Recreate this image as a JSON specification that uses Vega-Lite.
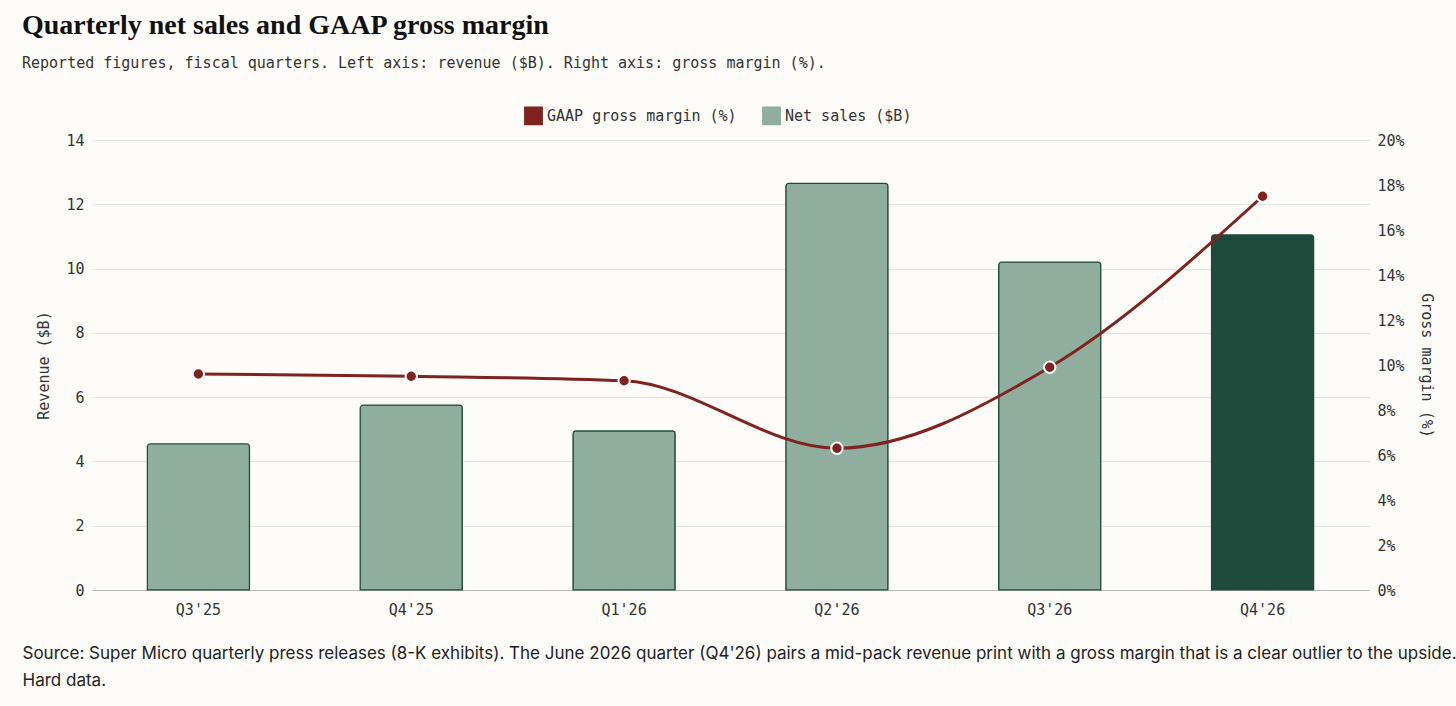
{
  "$schema": "https://vega.github.io/schema/vega-lite/v6.json",
  "autosize": {"type": "fit", "contains": "padding"},
  "width": 1456,
  "height": 706,
  "padding": {"left": 22, "top": 12, "right": 22, "bottom": 18},
  "background": "#fdfcf8",
  "title": {
    "text": "Quarterly net sales and GAAP gross margin",
    "subtitle": "Reported figures, fiscal quarters. Left axis: revenue ($B). Right axis: gross margin (%).",
    "anchor": "start",
    "frame": "group",
    "offset": 62,
    "font": "Liberation Serif",
    "fontSize": 28,
    "fontWeight": "bold",
    "color": "#111111",
    "subtitleFont": "DejaVu Sans Mono",
    "subtitleFontSize": 15,
    "subtitleColor": "#333333",
    "subtitlePadding": 16,
    "dx": -70
  },
  "config": {
    "view": {"stroke": null},
    "axis": {"labelFont": "DejaVu Sans Mono", "titleFont": "DejaVu Sans Mono", "labelFontSize": 15, "titleFontSize": 15, "labelColor": "#333333", "titleColor": "#333333", "titleFontWeight": "normal", "gridColor": "#e4e4e0", "domainColor": "#bbbbbb", "tickColor": "#bbbbbb"},
    "legend": {"labelFont": "DejaVu Sans Mono", "labelFontSize": 15, "labelColor": "#333333"}
  },
  "data": {
    "values": [
      {"q": "Q3'25", "sales": 4.55, "margin": 0.096},
      {"q": "Q4'25", "sales": 5.75, "margin": 0.095},
      {"q": "Q1'26", "sales": 4.95, "margin": 0.093},
      {"q": "Q2'26", "sales": 12.65, "margin": 0.063},
      {"q": "Q3'26", "sales": 10.2, "margin": 0.099},
      {"q": "Q4'26", "sales": 11.05, "margin": 0.175}
    ]
  },
  "encoding": {
    "x": {
      "field": "q", "type": "ordinal", "sort": null,
      "axis": {
        "labelAngle": 0, "labelPadding": 12, "grid": false, "ticks": false,
        "title": ["Source: Super Micro quarterly press releases (8-K exhibits). The June 2026 quarter (Q4'26) pairs a mid-pack revenue print with a gross margin that is a clear outlier to the upside.", "Hard data."],
        "titleFont": "Inter", "titleFontSize": 17, "titleColor": "#222222", "titleLimit": 1500,
        "titleAnchor": "start", "titleAlign": "left", "titleX": -70, "titlePadding": 28, "titleLineHeight": 27
      },
      "scale": {"paddingInner": 0.52, "paddingOuter": 0.26}
    }
  },
  "layer": [
    {
      "mark": {"type": "bar", "cornerRadiusTopLeft": 3, "cornerRadiusTopRight": 3, "stroke": "#1e4a3c", "strokeWidth": 1.2},
      "encoding": {
        "y": {"field": "sales", "type": "quantitative", "scale": {"domain": [0, 14]}, "axis": {"title": "Revenue ($B)", "tickCount": 7, "ticks": false, "domain": false, "labelPadding": 8, "titlePadding": 14}},
        "color": {
          "condition": {"test": "datum.q === \"Q4'26\"", "value": "#1e4a3c"},
          "datum": "Net sales ($B)",
          "type": "nominal",
          "scale": {"domain": ["GAAP gross margin (%)", "Net sales ($B)"], "range": ["#7f2320", "#8fae9e"]},
          "legend": {"orient": "none", "direction": "horizontal", "legendX": 432, "legendY": -34, "title": null, "symbolType": "square", "symbolSize": 300, "symbolStrokeColor": "#1e4a3c", "labelLimit": 300, "columnPadding": 22}
        }
      }
    },
    {
      "mark": {"type": "line", "interpolate": "monotone", "strokeWidth": 3, "point": {"filled": true, "size": 130, "stroke": "#ffffff", "strokeWidth": 2}},
      "encoding": {
        "y": {"field": "margin", "type": "quantitative", "scale": {"domain": [0, 0.2]}, "axis": {"title": "Gross margin (%)", "orient": "right", "format": ".0%", "tickCount": 10, "grid": false, "ticks": false, "domain": false, "labelPadding": 8, "titlePadding": 14, "titleAngle": 90}},
        "color": {"datum": "GAAP gross margin (%)", "type": "nominal"}
      }
    }
  ],
  "resolve": {"scale": {"y": "independent"}}
}
